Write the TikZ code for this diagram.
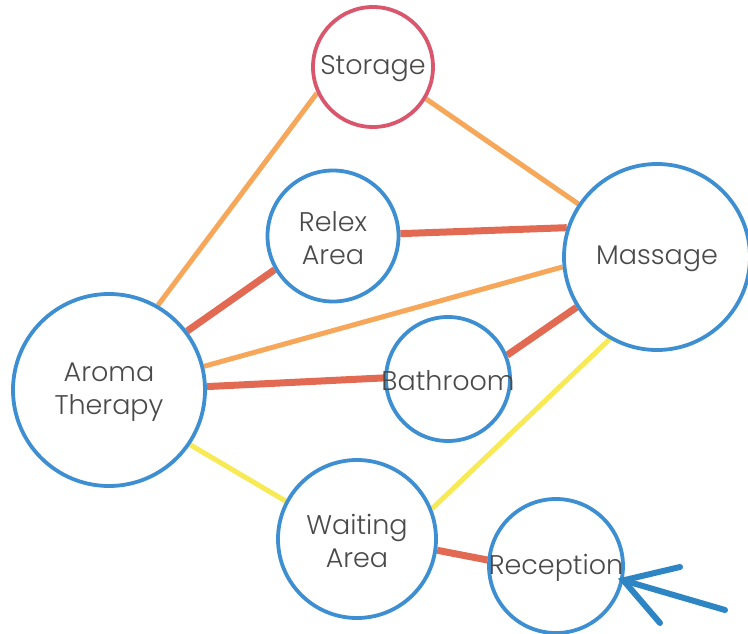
\documentclass[tikz,border=0pt]{standalone}
\usepackage{fontspec}
\setmainfont{Poppins}[UprightFont=* Light]
\usetikzlibrary{positioning, backgrounds}
\definecolor{roomblue}{HTML}{3E8FD2}
\definecolor{storered}{HTML}{D9566C}
\definecolor{linkorange}{HTML}{F7A75A}
\definecolor{linkred}{HTML}{E26A52}
\definecolor{linkyellow}{HTML}{F7EA55}
\definecolor{arrowblue}{HTML}{2E85C3}
\definecolor{labelgrey}{HTML}{4A4A4A}

\begin{document}
\begin{tikzpicture}[
    x=1pt, y=-1pt,
    room/.style={
        circle, draw=roomblue, line width=3.8pt, fill=white,
        inner sep=0pt, minimum size=#1,
    },
    roomtext/.style={
        font=\fontsize{27}{33}\selectfont, text=labelgrey,
        align=center, inner sep=0pt, yshift=-2pt,
    },
    weak/.style={draw=linkorange, line width=5pt},
    strong/.style={draw=linkred, line width=7pt},
    soft/.style={draw=linkyellow, line width=5pt},
]
\useasboundingbox (0,0) rectangle (748,634);

\node[room=120, draw=storered, label={[roomtext]center:Storage}] (storage) at (373,67) {};
\node[room=131, label={[roomtext]center:Relex\\Area}] (relex) at (333,236) {};
\node[room=186, label={[roomtext]center:Massage}] (massage) at (657,257) {};
\node[room=192, label={[roomtext]center:Aroma\\Therapy}] (aroma) at (109,390) {};
\node[room=124, label={[roomtext]center:Bathroom}] (bath) at (448,379) {};
\node[room=158, label={[roomtext]center:Waiting\\Area}] (waiting) at (357,539) {};
\node[room=134, label={[roomtext]center:Reception}] (reception) at (556,566) {};

% links between rooms
\begin{pgfonlayer}{background}
\draw[weak] (storage.205) -- (aroma.60);
\draw[weak] (storage.-31) -- (massage.146);
\draw[weak] (aroma.14) -- (massage.186);
\draw[strong] (relex.2) -- (massage.162);
\draw[strong] (relex.210) -- (aroma.37);
\draw[strong] (aroma.2) -- (bath.179);
\draw[strong] (bath.22) -- (massage.212);
\draw[strong] (waiting.-8) -- (reception.175);
\draw[soft] (aroma.-34) -- (waiting.152);
\draw[soft] (waiting.22) -- (massage.240);
\end{pgfonlayer}

% entrance arrow
\coordinate (entry) at (725,610);
\coordinate (tipup) at (680,567);
\coordinate (tiplow) at (660,623);
\draw[arrowblue, line width=6pt, line cap=round] (entry) -- (reception.-12);
\draw[arrowblue, line width=6pt, line cap=round] (tipup) -- (reception.-12) -- (tiplow);
\end{tikzpicture}
\end{document}
